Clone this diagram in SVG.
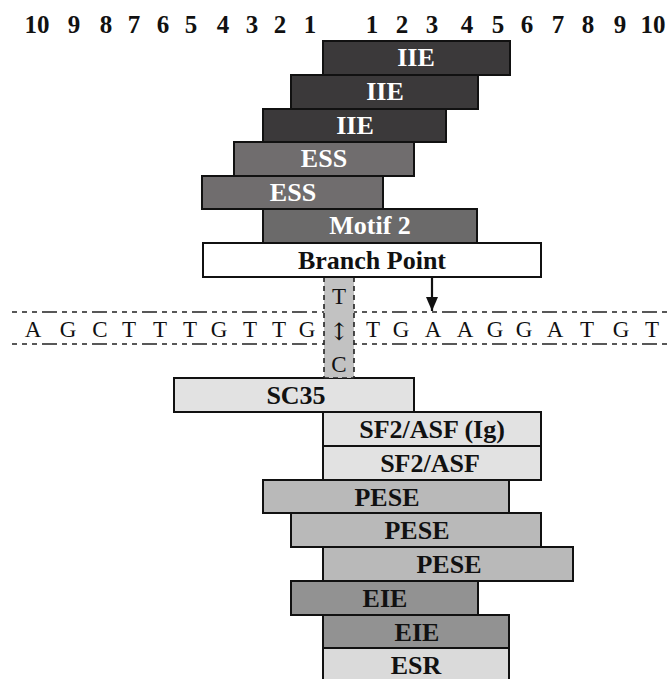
<svg xmlns="http://www.w3.org/2000/svg" width="670" height="679" viewBox="0 0 670 679">
  <style>
    .box { stroke: #111; stroke-width: 2; }
    .iie { fill: #3b393a; }
    .ess { fill: #706d6e; }
    .motif { fill: #6b6a6a; }
    .white { fill: #ffffff; }
    .light { fill: #e2e2e2; }
    .pese { fill: #b9b9b9; }
    .eie { fill: #929292; }
    .esr { fill: #dadada; }
    .lbl { font-family: "Liberation Serif", "Times New Roman", serif; font-weight: bold; font-size: 26px; text-anchor: middle; }
    .lw { fill: #ffffff; }
    .lb { fill: #111111; }
    .num { font-family: "Liberation Serif", "Times New Roman", serif; font-weight: bold; font-size: 25px; text-anchor: middle; fill: #111; }
    .seq { font-family: "Liberation Serif", "Times New Roman", serif; font-size: 23px; text-anchor: middle; fill: #111; }
    .dash { stroke: #222; stroke-width: 1.6; fill: none; stroke-dasharray: 5 5 5 5 5 5 15 5; }
    .vdash { stroke: #222; stroke-width: 1.6; stroke-dasharray: 5 4; }
  </style>
  <defs>
    <marker id="arrowhead" markerWidth="14" markerHeight="12" refX="14" refY="6" orient="auto" markerUnits="userSpaceOnUse" viewBox="0 0 14 12">
      <path d="M0,0 L14,6 L0,12 Z" fill="#111"/>
    </marker>
  </defs>

  <!-- position numbers -->
  <g id="positions">
    <text class="num" x="37" y="33">10</text>
    <text class="num" x="74" y="33">9</text>
    <text class="num" x="106" y="33">8</text>
    <text class="num" x="134" y="33">7</text>
    <text class="num" x="163" y="33">6</text>
    <text class="num" x="191" y="33">5</text>
    <text class="num" x="223" y="33">4</text>
    <text class="num" x="252" y="33">3</text>
    <text class="num" x="280" y="33">2</text>
    <text class="num" x="310" y="33">1</text>
    <text class="num" x="372" y="33">1</text>
    <text class="num" x="402" y="33">2</text>
    <text class="num" x="432" y="33">3</text>
    <text class="num" x="467" y="33">4</text>
    <text class="num" x="498" y="33">5</text>
    <text class="num" x="527" y="33">6</text>
    <text class="num" x="558" y="33">7</text>
    <text class="num" x="588" y="33">8</text>
    <text class="num" x="620" y="33">9</text>
    <text class="num" x="653" y="33">10</text>
  </g>

  <!-- sequence strand -->
  <g id="sequence">
    <line class="dash" x1="12" y1="312" x2="670" y2="312"/>
    <line class="dash" x1="12" y1="344" x2="670" y2="344"/>
    <text class="seq" x="33" y="337">A</text>
    <text class="seq" x="68" y="337">G</text>
    <text class="seq" x="100" y="337">C</text>
    <text class="seq" x="129" y="337">T</text>
    <text class="seq" x="160" y="337">T</text>
    <text class="seq" x="190" y="337">T</text>
    <text class="seq" x="219" y="337">G</text>
    <text class="seq" x="250" y="337">T</text>
    <text class="seq" x="279" y="337">T</text>
    <text class="seq" x="307" y="337">G</text>
    <text class="seq" x="373" y="337">T</text>
    <text class="seq" x="401" y="337">G</text>
    <text class="seq" x="433" y="337">A</text>
    <text class="seq" x="465" y="337">A</text>
    <text class="seq" x="495" y="337">G</text>
    <text class="seq" x="524" y="337">G</text>
    <text class="seq" x="555" y="337">A</text>
    <text class="seq" x="587" y="337">T</text>
    <text class="seq" x="621" y="337">G</text>
    <text class="seq" x="652" y="337">T</text>
  </g>

  <!-- upper elements -->
  <g id="iie-1"><rect class="box iie" x="323" y="41" width="187" height="34"/><text class="lbl lw" x="416" y="66">IIE</text></g>
  <g id="iie-2"><rect class="box iie" x="291" y="75" width="187" height="34"/><text class="lbl lw" x="385" y="100">IIE</text></g>
  <g id="iie-3"><rect class="box iie" x="263" y="109" width="183" height="33"/><text class="lbl lw" x="355" y="134">IIE</text></g>
  <g id="ess-1"><rect class="box ess" x="234" y="142" width="180" height="34"/><text class="lbl lw" x="324" y="167">ESS</text></g>
  <g id="ess-2"><rect class="box ess" x="202" y="176" width="181" height="33"/><text class="lbl lw" x="293" y="201">ESS</text></g>
  <g id="motif-2"><rect class="box motif" x="263" y="209" width="214" height="34"/><text class="lbl lw" x="370" y="234">Motif 2</text></g>

  <!-- lower elements -->
  <g id="sc35"><rect class="box light" x="174" y="378" width="240" height="34"/><text class="lbl lb" x="296" y="404">SC35</text></g>

  <!-- variant column T/C -->
  <g id="variant">
    <rect x="324" y="277" width="30" height="101" fill="#c2c2c2"/>
    <line class="vdash" x1="324" y1="277" x2="324" y2="378"/>
    <line class="vdash" x1="354" y1="277" x2="354" y2="378"/>
    <line class="vdash" x1="324" y1="378" x2="354" y2="378"/>
    <text class="seq" x="339" y="304" font-size="25">T</text>
    <text x="339" y="340" font-family="DejaVu Serif, serif" font-size="24" text-anchor="middle" fill="#111">↕</text>
    <text class="seq" x="339" y="372" font-size="25">C</text>
  </g>

  <g id="branch-point"><rect class="box white" x="203" y="243" width="338" height="34"/><text class="lbl lb" x="372" y="269">Branch Point</text></g>

  <g id="sf2-asf-ig"><rect class="box light" x="323" y="412" width="218" height="34"/><text class="lbl lb" x="432" y="438">SF2/ASF (Ig)</text></g>
  <g id="sf2-asf"><rect class="box light" x="323" y="446" width="218" height="34"/><text class="lbl lb" x="430" y="472">SF2/ASF</text></g>
  <g id="pese-1"><rect class="box pese" x="263" y="480" width="246" height="33"/><text class="lbl lb" x="387" y="506">PESE</text></g>
  <g id="pese-2"><rect class="box pese" x="291" y="513" width="250" height="34"/><text class="lbl lb" x="417" y="539">PESE</text></g>
  <g id="pese-3"><rect class="box pese" x="323" y="547" width="250" height="34"/><text class="lbl lb" x="449" y="573">PESE</text></g>
  <g id="eie-1"><rect class="box eie" x="291" y="581" width="187" height="34"/><text class="lbl lb" x="385" y="607">EIE</text></g>
  <g id="eie-2"><rect class="box eie" x="323" y="615" width="186" height="33"/><text class="lbl lb" x="417" y="641">EIE</text></g>
  <g id="esr"><rect class="box esr" x="323" y="648" width="186" height="34"/><text class="lbl lb" x="416" y="674">ESR</text></g>

  <!-- connectors -->
  <g id="connectors">
    <line x1="432" y1="277" x2="432" y2="311" stroke="#111" stroke-width="2.2" marker-end="url(#arrowhead)"/>
  </g>
</svg>
